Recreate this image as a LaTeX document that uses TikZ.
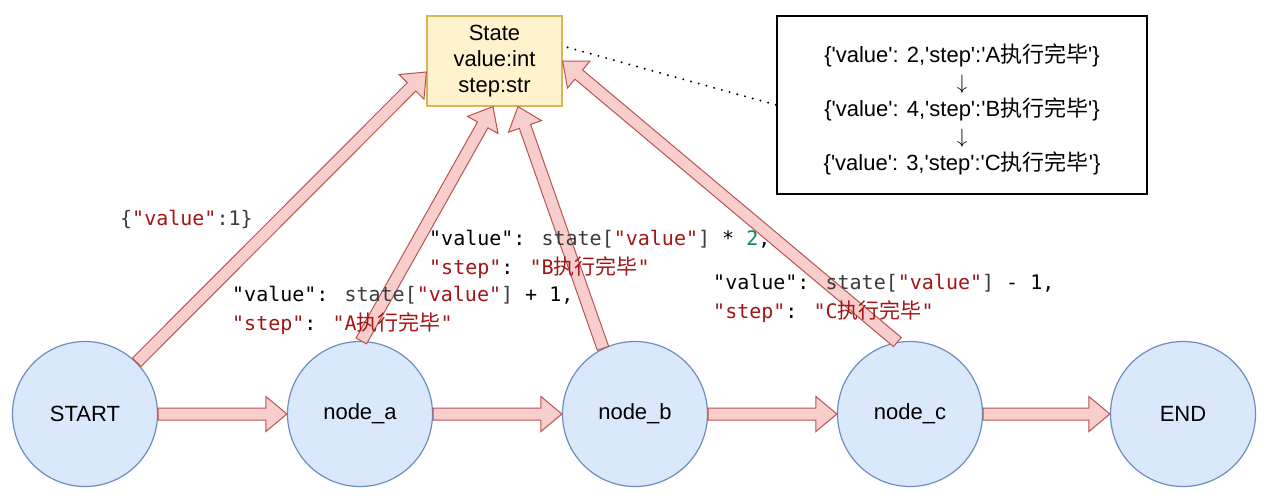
\documentclass[tikz,border=0pt]{standalone}
\usepackage{fontspec}
\setmainfont{Liberation Sans}[Ligatures=TeXOff]
\newfontfamily\cjk{Noto Sans CJK SC}
\newfontfamily\codefont{DejaVu Sans Mono}
\usetikzlibrary{calc}
\definecolor{cbluef}{HTML}{DAE8FC}
\definecolor{cblueb}{HTML}{6C8EBF}
\definecolor{credf}{HTML}{F8CECC}
\definecolor{credb}{HTML}{B85450}
\definecolor{cyelf}{HTML}{FFF2CC}
\definecolor{cyelb}{HTML}{D6B656}
\definecolor{kred}{HTML}{A31515}
\definecolor{kgray}{HTML}{3B3B3B}
\definecolor{kgreen}{HTML}{098658}
\newcommand{\cjc}[1]{{\cjk\fontsize{21}{29}\selectfont #1}}
\newcommand{\kr}[1]{\textcolor{kred}{#1}}
\newcommand{\kg}[1]{\textcolor{kgray}{#1}}
\newcommand{\blockarrow}[2]{%
  \draw[barrow] let \p1=(#1), \p2=(#2),
    \n1={atan2(\y2-\y1,\x2-\x1)},
    \n2={veclen(\x2-\x1,\y2-\y1)-21pt}
  in ($(\p1)+(\n1+90:6pt)$) -- ++(\n1:\n2) -- ++(\n1+90:11.5pt) -- (\p2)
     -- ($(\p2)+(\n1+180:21pt)+(\n1-90:17.5pt)$) -- ++(\n1+90:11.5pt)
     -- ($(\p1)+(\n1-90:6pt)$) -- cycle;}
\begin{document}
\begin{tikzpicture}[x=1pt,y=-1pt,
  circ/.style={circle, draw=cblueb, fill=cbluef, line width=1.2pt, minimum size=145pt, inner sep=0pt, font=\fontsize{22}{26}\selectfont},
  barrow/.style={draw=credb, fill=credf, line width=1pt, line join=miter},
  code/.style={anchor=west, align=left, inner sep=0pt, font=\codefont\fontsize{20}{29}\selectfont},
  dotline/.style={line width=2.2pt, line cap=round, dash pattern=on 0pt off 8pt},
]
\useasboundingbox[fill=white] (0,0) rectangle (1268,499);
\node[circ] (start) at (85,414) {START};
\node[circ] (na) at (360,414) {node\_a};
\node[circ] (nb) at (635,414) {node\_b};
\node[circ] (nc) at (910,414) {node\_c};
\node[circ] (end) at (1183,414) {END};
\node[draw=cyelb, fill=cyelf, line width=1.2pt, minimum width=135pt, minimum height=90pt, inner sep=0pt, align=center, font=\fontsize{22}{26}\selectfont] (state) at (494.5,61) {State\\value:int\\step:str};
\node[draw=black, line width=1.2pt, minimum width=370pt, minimum height=178pt, inner sep=0pt, font=\fontsize{22}{27}\selectfont] (hist) at (962,105) {};
\node[align=center, inner sep=0pt, font=\fontsize{22}{27}\selectfont] (histtxt) at (962,109)
  {\{'value': 2,'step':'A{\cjk 执行完毕}'\}\\$\downarrow$\\\{'value': 4,'step':'B{\cjk 执行完毕}'\}\\$\downarrow$\\\{'value': 3,'step':'C{\cjk 执行完毕}'\}};
\coordinate (dstart) at ($(state.north east)+(5,32)$);
\draw[dotline] (dstart) -- (hist.west);
% horizontal arrows
\blockarrow{start.east}{na.west}
\blockarrow{na.east}{nb.west}
\blockarrow{nb.east}{nc.west}
\blockarrow{nc.east}{end.west}
% arrows to state
\coordinate (t1) at ($(state.west)+(0,11)$);
\coordinate (t2) at ($(state.south)+(-1.5,0)$);
\coordinate (t3) at ($(state.south)+(23.5,0)$);
\coordinate (t4) at (state.east);
\blockarrow{start.45}{t1}
\blockarrow{na.89}{t2}
\blockarrow{nb.116}{t3}
\blockarrow{nc.100}{t4}
% labels
\node[code] (l0) at (120,219) {\kg{\{}\kr{"value"}\kg{:1\}}};
\node[code] (la) at (232,310) {"value": \kg{state[}\kr{"value"}\kg{]} + 1,\\\kr{"step"}: \kr{"A\cjc{执行完毕}"}};
\node[code] (lb) at (429,254) {"value": \kg{state[}\kr{"value"}\kg{]} * \textcolor{kgreen}{2},\\\kr{"step"}: \kr{"B\cjc{执行完毕}"}};
\node[code] (lc) at (713,298) {"value": \kg{state[}\kr{"value"}\kg{]} - 1,\\\kr{"step"}: \kr{"C\cjc{执行完毕}"}};
\end{tikzpicture}
\end{document}
